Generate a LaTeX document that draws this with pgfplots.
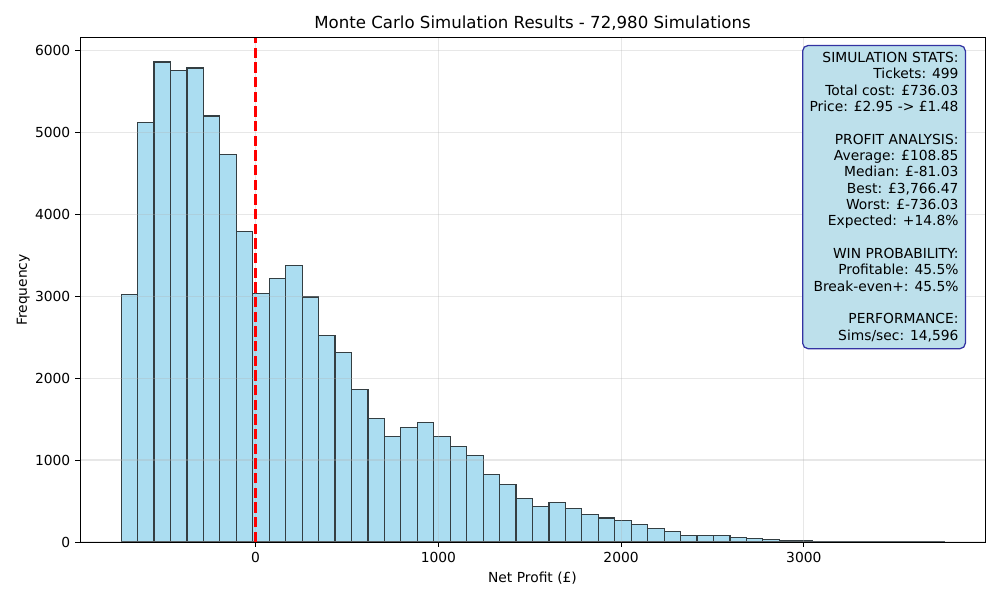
\documentclass[border=0pt]{standalone}
\usepackage{fontspec}
\setmainfont{DejaVu Sans}
\usepackage{pgfplots}
\pgfplotsset{compat=1.18}

\definecolor{barfill}{RGB}{171,221,241}
\definecolor{baredge}{RGB}{52,62,66}
\definecolor{boxfill}{RGB}{189,224,235}
\definecolor{boxedge}{RGB}{51,51,162}
\definecolor{gridgray}{RGB}{176,176,176}

% Histogram: 50 equal bins from the worst to the best outcome (left edges, counts)
\begin{document}
\begin{tikzpicture}
\path (0,0) rectangle (720bp,432bp);
\begin{axis}[
  set layers,
  at={(57.6bp,41.76bp)}, anchor=south west,
  scale only axis, width=651.6bp, height=362.9bp,
  xmin=-961.2, xmax=3991.6, ymin=0, ymax=6150,
  xtick={0,1000,2000,3000}, ytick={0,1000,...,6000},
  scaled ticks=false,
  /pgf/number format/1000 sep={},
  /pgf/number format/assume math mode=true,
  tick label style={font=\fontsize{10}{12}\selectfont},
  tick align=outside, xtick pos=bottom, ytick pos=left,
  major tick length=3.5pt,
  every tick/.style={black, line width=0.7pt},
  axis line style={line width=0.7pt},
  grid=major,
  major grid style={draw=gridgray, draw opacity=0.3, line width=0.8pt},
  xlabel={Net Profit (£)}, ylabel={Frequency},
  label style={font=\fontsize{10}{12}\selectfont},
  xlabel style={yshift=0pt},
  ylabel style={yshift=-3pt},
  title={Monte Carlo Simulation Results - 72,980 Simulations},
  title style={font=\fontsize{12}{14}\selectfont, yshift=-4pt},
]
\addplot[ybar interval, on layer=axis background,
  fill=barfill, draw=baredge, line width=0.9pt]
coordinates {
(-736.03,3021) (-645.98,5118) (-555.93,5857) (-465.88,5752) (-375.83,5784)
(-285.78,5199) (-195.73,4728) (-105.68,3789) (-15.63,3033) (74.42,3215)
(164.47,3375) (254.52,2988) (344.57,2523) (434.62,2312) (524.67,1862)
(614.72,1508) (704.77,1289) (794.82,1398) (884.87,1459) (974.92,1289)
(1064.97,1166) (1155.02,1056) (1245.07,827) (1335.12,704) (1425.17,533)
(1515.22,435) (1605.27,480) (1695.32,411) (1785.37,338) (1875.42,293)
(1965.47,264) (2055.52,216) (2145.57,167) (2235.62,126) (2325.67,81)
(2415.72,81) (2505.77,81) (2595.82,57) (2685.87,41) (2775.92,32)
(2865.97,20) (2956.02,12) (3046.07,10) (3136.12,7) (3226.17,6)
(3316.22,4) (3406.27,3) (3496.32,2) (3586.37,0) (3676.42,2)
(3766.47,0)
};
% break-even marker
\addplot[red, line width=2pt, dash pattern=on 7.4pt off 3.2pt] coordinates {(0,0) (0,6150)};
\node[anchor=north east, align=right, font=\fontsize{10}{11.8}\selectfont,
  fill=boxfill, draw=boxedge, line width=0.9pt, rounded corners=4pt, inner sep=5pt]
  at (rel axis cs:0.979,0.9864) {SIMULATION STATS:\\Tickets: 499\\Total cost: £736.03\\Price: £2.95 -> £1.48\\[11.8pt]
PROFIT ANALYSIS:\\Average: £108.85\\Median: £-81.03\\Best: £3,766.47\\Worst: £-736.03\\Expected: +14.8\%\\[11.8pt]
WIN PROBABILITY:\\Profitable: 45.5\%\\Break-even+: 45.5\%\\[11.8pt]
PERFORMANCE:\\Sims/sec: 14,596};
\end{axis}
\end{tikzpicture}
\end{document}
